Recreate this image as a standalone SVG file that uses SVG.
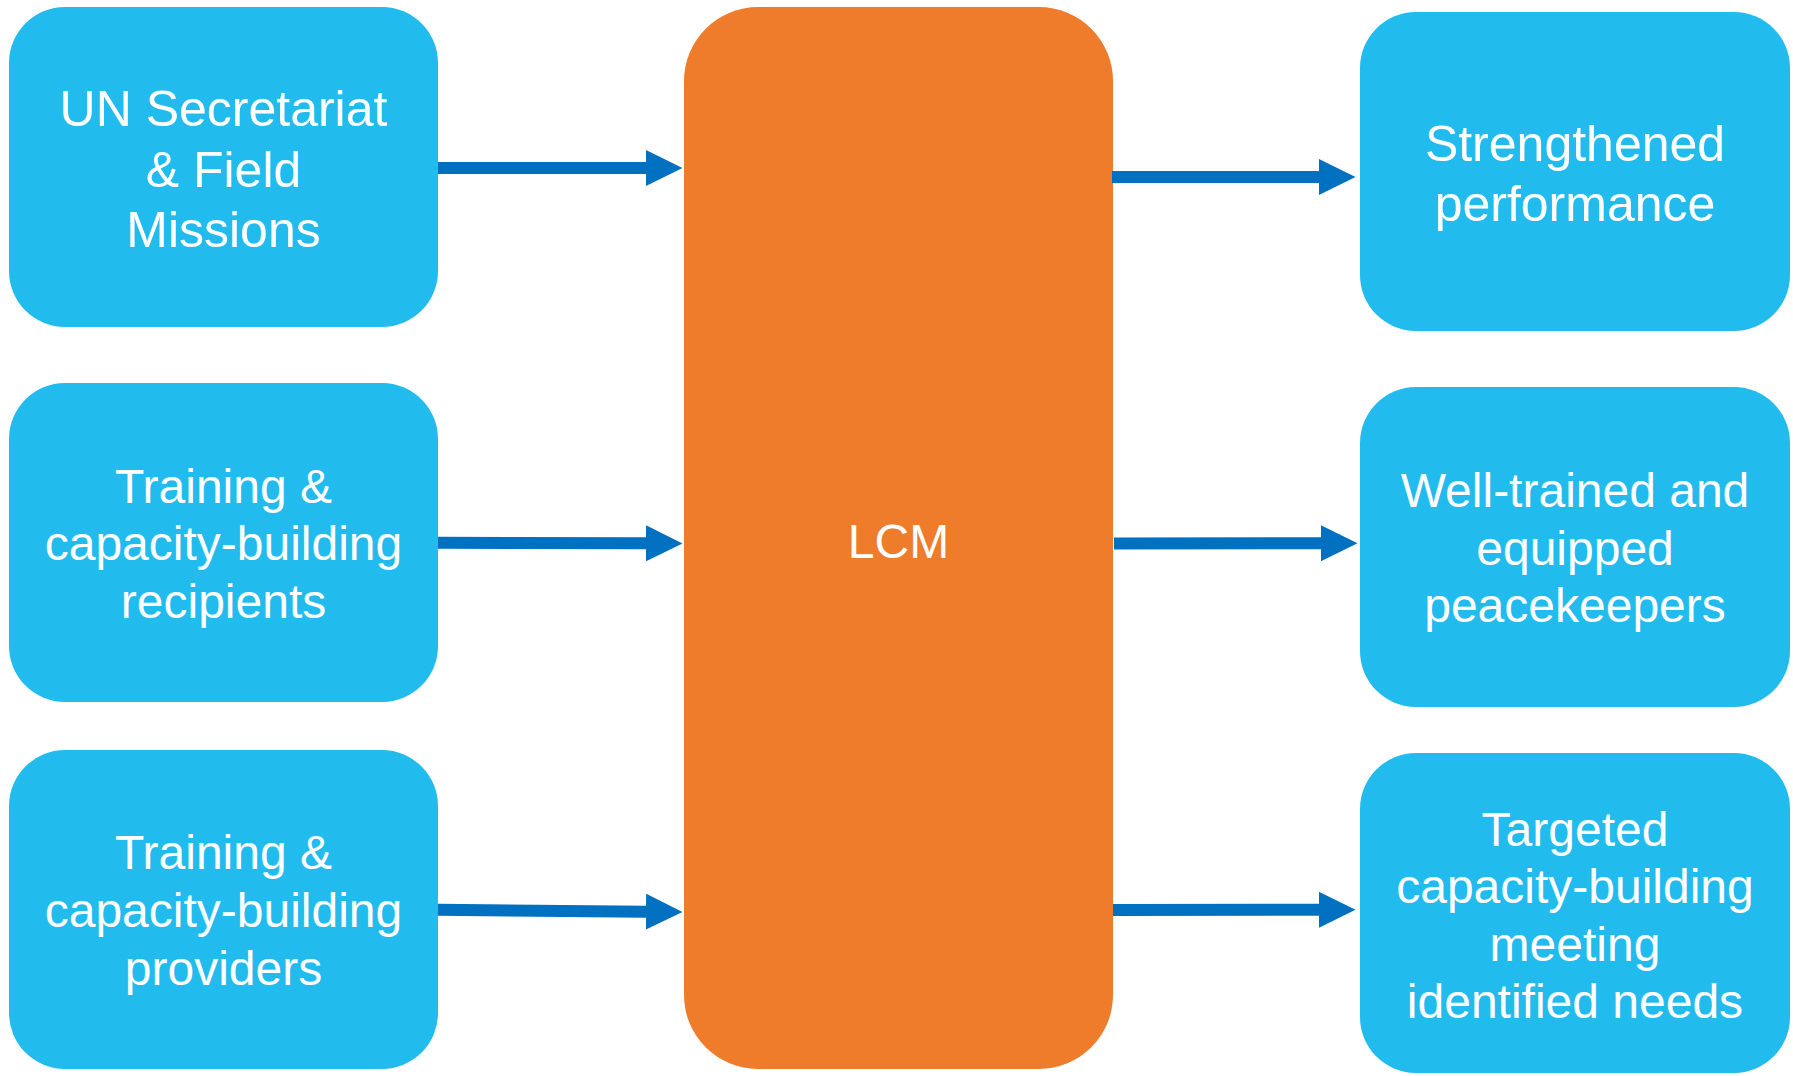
<svg xmlns="http://www.w3.org/2000/svg" width="1793" height="1076" viewBox="0 0 1793 1076">
<style>
.box{fill:#21BBEE;}
.core{fill:#EE7C2A;}
text{font-family:"Liberation Sans",Arial,Helvetica,sans-serif;fill:#FFFFFF;text-anchor:middle;}
.t50{font-size:50px;}
.t48{font-size:48px;}
.conn{stroke:#0070C0;stroke-width:12;fill:none;marker-end:url(#ah);}
</style>
<defs>
<marker id="ah" markerUnits="userSpaceOnUse" markerWidth="37" markerHeight="36" refX="0" refY="18" orient="auto" viewBox="0 0 37 36">
<path d="M0,0 L36.5,18 L0,36 z" fill="#0070C0"/>
</marker>
</defs>
<rect width="1793" height="1076" fill="#FFFFFF"/>
<g id="node-un">
<rect class="box" x="9" y="7" width="429" height="320" rx="56" ry="56"/>
<text class="t50" x="223.5" y="126">UN Secretariat</text>
<text class="t50" x="223.5" y="186.5">&amp; Field</text>
<text class="t50" x="223.5" y="247">Missions</text>
</g>
<g id="node-recipients">
<rect class="box" x="9" y="383" width="429" height="319" rx="56" ry="56"/>
<text class="t48" x="223.5" y="502.5">Training &amp;</text>
<text class="t48" x="223.5" y="560">capacity-building</text>
<text class="t48" x="223.5" y="617.5">recipients</text>
</g>
<g id="node-providers">
<rect class="box" x="9" y="750" width="429" height="319" rx="56" ry="56"/>
<text class="t48" x="223.5" y="869">Training &amp;</text>
<text class="t48" x="223.5" y="927">capacity-building</text>
<text class="t48" x="223.5" y="985">providers</text>
</g>
<g id="node-lcm">
<rect class="core" x="684" y="7" width="429" height="1062" rx="74" ry="74"/>
<text class="t48" x="898.5" y="558">LCM</text>
</g>
<g id="node-performance">
<rect class="box" x="1360" y="12" width="430" height="319" rx="56" ry="56"/>
<text class="t50" x="1575" y="160.5">Strengthened</text>
<text class="t50" x="1575" y="220.5">performance</text>
</g>
<g id="node-peacekeepers">
<rect class="box" x="1360" y="387" width="430" height="320" rx="56" ry="56"/>
<text class="t48" x="1575" y="507">Well-trained and</text>
<text class="t48" x="1575" y="564.5">equipped</text>
<text class="t48" x="1575" y="622">peacekeepers</text>
</g>
<g id="node-targeted">
<rect class="box" x="1360" y="753" width="430" height="320" rx="56" ry="56"/>
<text class="t48" x="1575" y="846">Targeted</text>
<text class="t48" x="1575" y="903">capacity-building</text>
<text class="t48" x="1575" y="960.5">meeting</text>
<text class="t48" x="1575" y="1018">identified needs</text>
</g>
<g id="connectors">
<path class="conn" d="M438,168 L646,168"/>
<path class="conn" d="M438,542.7 L646,543.3"/>
<path class="conn" d="M438,909.8 L646,911.7"/>
<path class="conn" d="M1112,177 L1319,177"/>
<path class="conn" d="M1114,543.6 L1321,543.2"/>
<path class="conn" d="M1113,910 L1319,909.8"/>
</g>
</svg>
